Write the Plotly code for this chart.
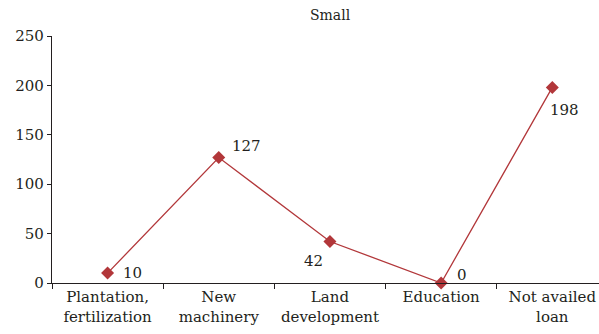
import plotly.graph_objects as go

categories = ["Plantation,<br>fertilization", "New<br>machinery", "Land<br>development",
              "Education", "Not availed<br>loan"]
values = [10, 127, 42, 0, 198]
# per-point label placement: (xanchor, xshift px, yshift px)
label_offsets = [("left", 13, 0), ("left", 11, 12), ("right", -5, -19),
                 ("left", 14, 8), ("left", -4, -23)]

line_color = "#b2373a"
text_color = "#231f20"
font_family = "DejaVu Serif"

fig = go.Figure(
    go.Scatter(
        x=categories,
        y=values,
        mode="lines+markers",
        line=dict(color=line_color, width=1.3),
        marker=dict(symbol="diamond", size=10, color=line_color),
        cliponaxis=False,
    )
)

for cat, val, (anchor, dx, dy) in zip(categories, values, label_offsets):
    fig.add_annotation(
        x=cat, y=val, text=str(val), showarrow=False,
        xanchor=anchor, yanchor="middle", xshift=dx, yshift=dy,
        font=dict(family=font_family, size=15, color=text_color),
    )

fig.update_layout(
    width=599,
    height=334,
    margin=dict(l=52, r=0, t=36, b=51),
    paper_bgcolor="white",
    plot_bgcolor="white",
    showlegend=False,
    font=dict(family=font_family, size=15, color=text_color),
    title=dict(text="Small", x=0.551, xanchor="center", y=0.955, yanchor="middle",
               font=dict(family=font_family, size=14, color=text_color)),
)

fig.update_xaxes(
    type="category",
    range=[-0.5, 4.42],
    tickson="boundaries",
    ticks="outside",
    ticklen=5,
    tickcolor=text_color,
    showline=True,
    linecolor=text_color,
    linewidth=1.3,
    showgrid=False,
    zeroline=False,
    tickfont=dict(family=font_family, size=15, color=text_color),
)

fig.update_yaxes(
    range=[0, 250],
    tickvals=[0, 50, 100, 150, 200, 250],
    ticks="outside",
    ticklen=4,
    tickcolor=text_color,
    showline=True,
    linecolor=text_color,
    linewidth=1.3,
    showgrid=False,
    zeroline=False,
    tickfont=dict(family=font_family, size=15, color=text_color),
)

fig.write_html("out.html")
